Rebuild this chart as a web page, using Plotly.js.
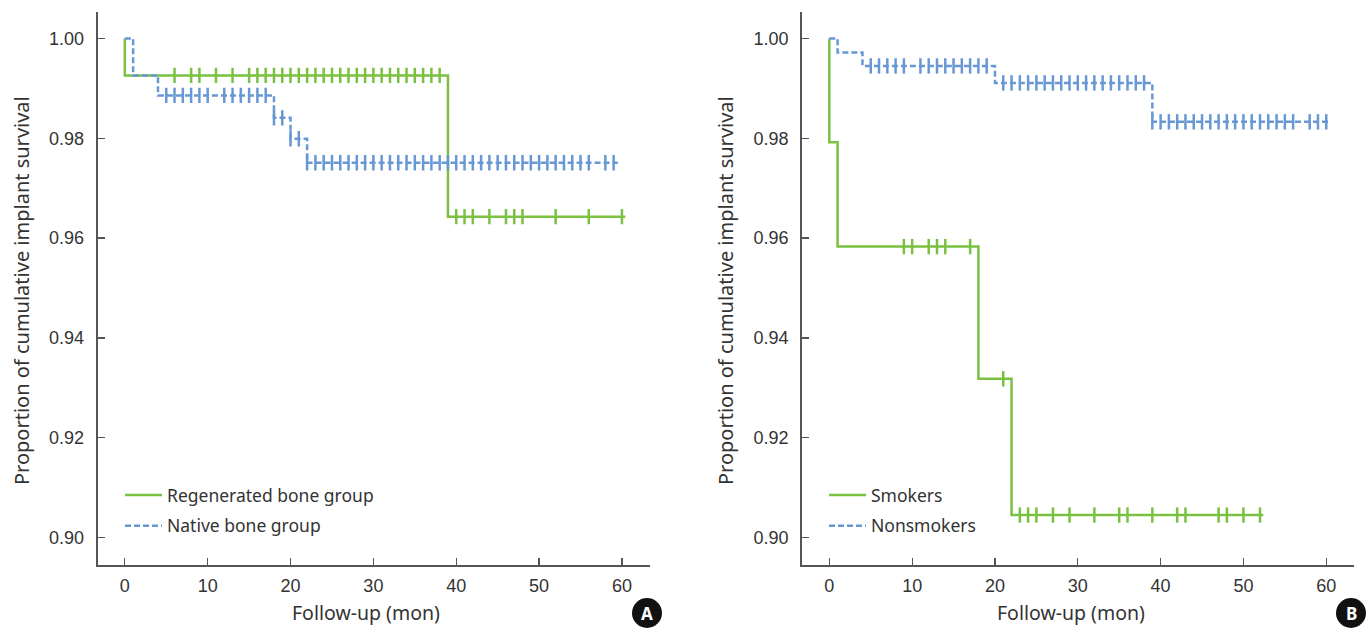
<!DOCTYPE html>
<html>
<head>
<meta charset="utf-8">
<script src="https://cdn.plot.ly/plotly-3.0.1.min.js"></script>
<style>html,body{margin:0;padding:0;background:#fff}#chart{width:1372px;height:628px}</style>
</head>
<body>
<div id="chart"></div>
<script>
// ---------- Panel A: Regenerated vs Native bone ----------
var regenStepTime = [0, 0, 39, 60.4];
var regenStepSurv = [1.00, 0.9926, 0.9643, 0.9643];
var regenCensorTime = [6, 8, 9, 11, 13, 15, 16, 17, 18, 19, 20, 21, 22, 23, 24, 25, 26, 27, 28, 29, 30, 31, 32, 33, 34, 35, 36, 37, 38,
                       40, 41, 42, 44, 46, 47, 48, 52, 56, 60];
var regenCensorSurv = [0.9926, 0.9926, 0.9926, 0.9926, 0.9926, 0.9926, 0.9926, 0.9926, 0.9926, 0.9926, 0.9926, 0.9926, 0.9926, 0.9926, 0.9926,
                       0.9926, 0.9926, 0.9926, 0.9926, 0.9926, 0.9926, 0.9926, 0.9926, 0.9926, 0.9926, 0.9926, 0.9926, 0.9926, 0.9926,
                       0.9643, 0.9643, 0.9643, 0.9643, 0.9643, 0.9643, 0.9643, 0.9643, 0.9643, 0.9643];

var nativeStepTime = [0, 1, 4, 18, 20, 22, 59.5];
var nativeStepSurv = [1.00, 0.9926, 0.9886, 0.9841, 0.9799, 0.9751, 0.9751];
var nativeCensorTime = [5, 6, 7, 8, 9, 10, 12, 13, 14, 15, 16, 17,
                        18, 19,
                        20, 21,
                        22, 23, 24, 25, 26, 27, 28, 29, 30, 31, 32, 33, 34, 35, 36, 37, 38, 39, 40, 41, 42, 43, 44, 45, 46, 47, 48, 49, 50,
                        51, 52, 53, 54, 55, 56, 58, 59];
var nativeCensorSurv = [0.9886, 0.9886, 0.9886, 0.9886, 0.9886, 0.9886, 0.9886, 0.9886, 0.9886, 0.9886, 0.9886, 0.9886,
                        0.9841, 0.9841,
                        0.9799, 0.9799,
                        0.9751, 0.9751, 0.9751, 0.9751, 0.9751, 0.9751, 0.9751, 0.9751, 0.9751, 0.9751, 0.9751, 0.9751, 0.9751, 0.9751,
                        0.9751, 0.9751, 0.9751, 0.9751, 0.9751, 0.9751, 0.9751, 0.9751, 0.9751, 0.9751, 0.9751, 0.9751, 0.9751, 0.9751,
                        0.9751, 0.9751, 0.9751, 0.9751, 0.9751, 0.9751, 0.9751, 0.9751, 0.9751];

// ---------- Panel B: Smokers vs Nonsmokers ----------
var smokStepTime = [0, 0, 1, 18, 22, 52.4];
var smokStepSurv = [1.00, 0.9792, 0.9583, 0.9318, 0.9045, 0.9045];
var smokCensorTime = [9, 10, 12, 13, 14, 17,
                      21,
                      23, 24, 25, 27, 29, 32, 35, 36, 39, 42, 43, 47, 48, 50, 52];
var smokCensorSurv = [0.9583, 0.9583, 0.9583, 0.9583, 0.9583, 0.9583,
                      0.9318,
                      0.9045, 0.9045, 0.9045, 0.9045, 0.9045, 0.9045, 0.9045, 0.9045, 0.9045, 0.9045, 0.9045, 0.9045, 0.9045, 0.9045, 0.9045];

var nonsmokStepTime = [0, 1, 4, 20, 39, 60.4];
var nonsmokStepSurv = [1.00, 0.9972, 0.9945, 0.9911, 0.9833, 0.9833];
var nonsmokCensorTime = [5, 6, 7, 8, 9, 11, 12, 13, 14, 15, 16, 17, 18, 19,
                         21, 22, 23, 24, 25, 26, 27, 28, 29, 30, 31, 32, 33, 34, 35, 36, 37, 38,
                         39, 40, 41, 42, 43, 44, 45, 46, 47, 48, 49, 50, 51, 52, 53, 54, 55, 56, 58, 59, 60];
var nonsmokCensorSurv = [0.9945, 0.9945, 0.9945, 0.9945, 0.9945, 0.9945, 0.9945, 0.9945, 0.9945, 0.9945, 0.9945, 0.9945, 0.9945, 0.9945,
                         0.9911, 0.9911, 0.9911, 0.9911, 0.9911, 0.9911, 0.9911, 0.9911, 0.9911, 0.9911, 0.9911, 0.9911, 0.9911, 0.9911,
                         0.9911, 0.9911, 0.9911, 0.9911,
                         0.9833, 0.9833, 0.9833, 0.9833, 0.9833, 0.9833, 0.9833, 0.9833, 0.9833, 0.9833, 0.9833, 0.9833, 0.9833, 0.9833,
                         0.9833, 0.9833, 0.9833, 0.9833, 0.9833, 0.9833, 0.9833];

var xTickVals = [0, 10, 20, 30, 40, 50, 60];
var yTickVals = [0.90, 0.92, 0.94, 0.96, 0.98, 1.00];
var yTickText = ['0.90', '0.92', '0.94', '0.96', '0.98', '1.00'];

var GREEN = 'rgb(122,193,66)';
var BLUE = 'rgb(104,152,212)';
var DASH = '6px,3px';
var TXT = '#333333';
var W = 1372, H = 628;

function stepTrace(x, y, name, color, dash, xa, ya, leg, grp) {
  return {x: x, y: y, type: 'scatter', mode: 'lines', name: name,
    line: {color: color, width: 2.5, shape: 'hv', dash: dash},
    xaxis: xa, yaxis: ya, legend: leg, legendgroup: grp, hoverinfo: 'skip'};
}
function censorTrace(x, y, color, xa, ya) {
  return {x: x, y: y, type: 'scatter', mode: 'markers', showlegend: false,
    marker: {symbol: 'line-ns', size: 11, color: color, line: {color: color, width: 2.5}},
    xaxis: xa, yaxis: ya, hoverinfo: 'skip'};
}

var data = [
  stepTrace(regenStepTime, regenStepSurv, 'Regenerated bone group', GREEN, 'solid', 'x', 'y', 'legend', 'a1'),
  stepTrace(nativeStepTime, nativeStepSurv, 'Native bone group', BLUE, DASH, 'x', 'y', 'legend', 'a2'),
  censorTrace(nativeCensorTime, nativeCensorSurv, BLUE, 'x', 'y'),
  censorTrace(regenCensorTime, regenCensorSurv, GREEN, 'x', 'y'),
  stepTrace(smokStepTime, smokStepSurv, 'Smokers', GREEN, 'solid', 'x2', 'y2', 'legend2', 'b1'),
  stepTrace(nonsmokStepTime, nonsmokStepSurv, 'Nonsmokers', BLUE, DASH, 'x2', 'y2', 'legend2', 'b2'),
  censorTrace(nonsmokCensorTime, nonsmokCensorSurv, BLUE, 'x2', 'y2'),
  censorTrace(smokCensorTime, smokCensorSurv, GREEN, 'x2', 'y2')
];

var tickFont = {family: 'Liberation Sans, Arial, sans-serif', size: 18, color: TXT};
function xAxis(domain, anchor) {
  return {domain: domain, anchor: anchor, range: [-3.3, 63.35], tickvals: xTickVals,
    ticks: 'inside', ticklen: 7, tickwidth: 1.3, tickcolor: '#555',
    showline: true, linecolor: '#555', linewidth: 1.8, showgrid: false, zeroline: false,
    tickfont: tickFont, ticklabelstandoff: 4, fixedrange: true};
}
function yAxis(anchor) {
  return {domain: [(H - 565) / H, (H - 12) / H], anchor: anchor, range: [0.89449, 1.00531],
    tickvals: yTickVals, ticktext: yTickText,
    ticks: 'inside', ticklen: 7, tickwidth: 1.3, tickcolor: '#555',
    showline: true, linecolor: '#555', linewidth: 1.8, showgrid: false, zeroline: false,
    tickfont: tickFont, ticklabelstandoff: 8, fixedrange: true};
}

var yTitleFont = {family: 'Noto Sans, sans-serif', size: 20, color: TXT};
var xTitleFont = {family: 'Noto Sans, sans-serif', size: 19.5, color: TXT};
var legFont = {family: 'Noto Sans, sans-serif', size: 17.5, color: TXT};

function badge(cx, cy, r) {
  return {type: 'circle', xref: 'paper', yref: 'paper',
    x0: (cx - r) / W, x1: (cx + r) / W, y0: (H - cy - r) / H, y1: (H - cy + r) / H,
    fillcolor: '#111', line: {width: 0}};
}

var layout = {
  width: W, height: H,
  margin: {l: 0, r: 0, t: 0, b: 0},
  paper_bgcolor: '#fff', plot_bgcolor: '#fff',
  showlegend: true,
  xaxis: xAxis([97.5 / W, 649.7 / W], 'y'),
  yaxis: yAxis('x'),
  xaxis2: xAxis([802 / W, 1354 / W], 'y2'),
  yaxis2: yAxis('x2'),
  legend: {x: 120 / W, y: (H - 477) / H, xanchor: 'left', yanchor: 'top', bgcolor: 'rgba(0,0,0,0)',
    font: legFont, tracegroupgap: 5, itemwidth: 37},
  legend2: {x: 824 / W, y: (H - 477) / H, xanchor: 'left', yanchor: 'top', bgcolor: 'rgba(0,0,0,0)',
    font: legFont, tracegroupgap: 5, itemwidth: 37},
  shapes: [badge(647, 613, 15), badge(1351, 613, 15)],
  annotations: [
    {text: 'Follow-up (mon)', xref: 'paper', yref: 'paper', x: 366 / W, y: (H - 612) / H, showarrow: false, font: xTitleFont, xanchor: 'center', yanchor: 'middle'},
    {text: 'Follow-up (mon)', xref: 'paper', yref: 'paper', x: 1071 / W, y: (H - 612) / H, showarrow: false, font: xTitleFont, xanchor: 'center', yanchor: 'middle'},
    {text: 'Proportion of cumulative implant survival', xref: 'paper', yref: 'paper', x: 22 / W, y: (H - 291) / H, textangle: -90, showarrow: false, font: yTitleFont, xanchor: 'center', yanchor: 'middle'},
    {text: 'Proportion of cumulative implant survival', xref: 'paper', yref: 'paper', x: 726 / W, y: (H - 291) / H, textangle: -90, showarrow: false, font: yTitleFont, xanchor: 'center', yanchor: 'middle'},
    {text: '<b>A</b>', xref: 'paper', yref: 'paper', x: 647 / W, y: (H - 613) / H, showarrow: false, font: {family: 'Noto Sans, sans-serif', size: 17, color: '#fff'}, xanchor: 'center', yanchor: 'middle'},
    {text: '<b>B</b>', xref: 'paper', yref: 'paper', x: 1351 / W, y: (H - 613) / H, showarrow: false, font: {family: 'Noto Sans, sans-serif', size: 17, color: '#fff'}, xanchor: 'center', yanchor: 'middle'}
  ]
};

Plotly.newPlot('chart', data, layout, {staticPlot: true, displayModeBar: false});
</script>
</body>
</html>
